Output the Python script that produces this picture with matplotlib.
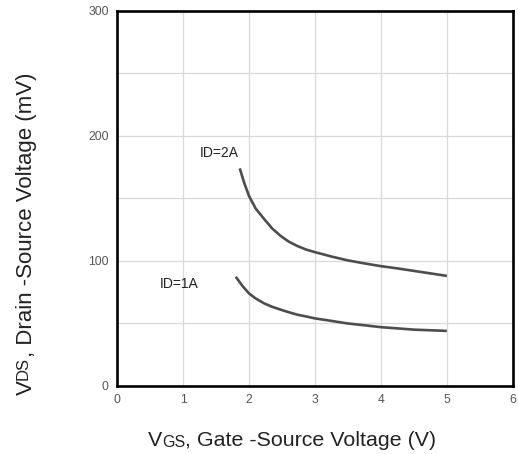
import numpy as np
import matplotlib.pyplot as plt

# values
vgs_2a = [1.86, 1.93, 2.0, 2.1, 2.23, 2.35, 2.48, 2.6, 2.73, 2.87, 3.0, 3.25, 3.49, 3.75, 4.0, 4.25, 4.5, 4.75, 5.0]
vds_2a = [174, 162, 152, 142, 133.5, 126, 120, 115.5, 112, 109, 107, 103.5, 100.5, 98, 95.8, 94, 92, 90, 88]
vgs_1a = [1.8, 1.9, 2.0, 2.1, 2.23, 2.35, 2.48, 2.6, 2.73, 2.87, 3.0, 3.25, 3.49, 3.75, 4.0, 4.25, 4.5, 4.75, 5.0]
vds_1a = [87.3, 80, 74, 70, 66, 63.3, 61, 59, 57, 55.5, 54, 52, 50, 48.5, 47, 46, 45, 44.5, 44]
xticks = [0, 1, 2, 3, 4, 5, 6]
yticks = [0, 100, 200, 300]

plt.rcParams['font.family'] = ['Liberation Sans', 'DejaVu Sans']

fig = plt.figure(figsize=(5.18, 4.54), dpi=100)
ax = fig.add_axes([0.226, 0.150, 0.764, 0.826])

ax.plot(vgs_2a, vds_2a, color='#4d4d4d', lw=1.9, solid_capstyle='butt')
ax.plot(vgs_1a, vds_1a, color='#4d4d4d', lw=1.9, solid_capstyle='butt')

ax.set_xlim(0, 6)
ax.set_ylim(0, 300)
ax.set_xticks(xticks)
ax.set_yticks(yticks)
ax.set_yticks(np.arange(0, 301, 50), minor=True)
ax.grid(True, which='both', color='#d9d9d9', lw=0.9)
ax.set_axisbelow(True)
ax.tick_params(which='both', length=0, colors='#555555', labelsize=8.8, pad=6)
for s in ax.spines.values():
    s.set_linewidth(1.9)
    s.set_color('black')

ax.text(1.26, 186, 'ID=2A', fontsize=10, color='#222222', va='center')
ax.text(0.64, 81.6, 'ID=1A', fontsize=10, color='#222222', va='center')

# x label: V + small GS + rest
t1 = fig.text(0.2857, 0.0176, 'V', fontsize=15.4, color='#222222', va='baseline', ha='left')
t2 = ax.annotate('GS', xy=(1, 0), xycoords=t1, fontsize=11.5, color='#222222', va='bottom', ha='left')
ax.annotate(', Gate -Source Voltage (V)', xy=(1, 0), xycoords=t2, fontsize=15.4, color='#222222', va='bottom', ha='left')

# y label, rotated
u1 = fig.text(0.031, 0.130, 'V', fontsize=16, color='#222222', rotation=90, va='bottom', ha='left')
u2 = ax.annotate('DS', xy=(0, 1), xycoords=u1, fontsize=12, color='#222222', rotation=90, va='bottom', ha='left')
ax.annotate(', Drain -Source Voltage (mV)', xy=(0, 1), xycoords=u2, fontsize=16, color='#222222', rotation=90, va='bottom', ha='left')

fig.savefig('out.png', dpi=100)
